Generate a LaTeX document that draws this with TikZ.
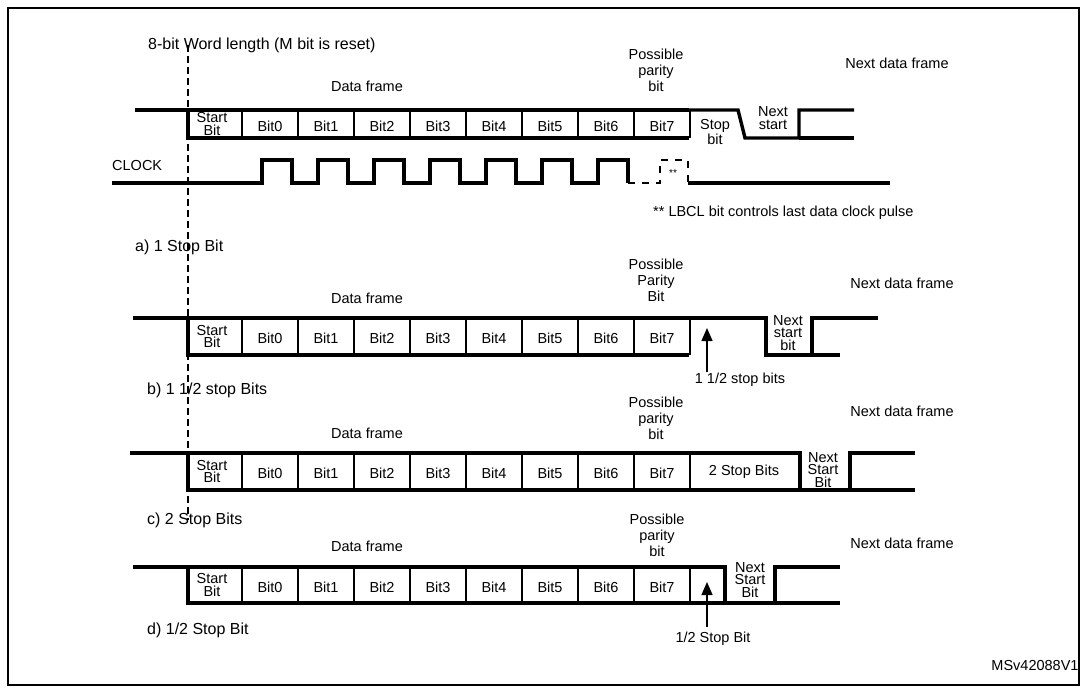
\documentclass[tikz,border=0pt]{standalone}
\usepackage{fontspec}
\setmainfont{Liberation Sans}
\usetikzlibrary{arrows.meta}
\tikzset{
  sig/.style={line width=3.4pt},
  thin sig/.style={line width=2.2pt},
  bitlbl/.style={font=\fontsize{14.5}{12.5}\selectfont,align=center,inner sep=0pt},
  txt/.style={font=\fontsize{14.5}{16}\selectfont,align=center,inner sep=0pt},
  big/.style={font=\fontsize{16}{18}\selectfont,anchor=west,inner sep=0pt},
}
\begin{document}
\begin{tikzpicture}[x=1pt,y=-1pt]
  \useasboundingbox (0,0) rectangle (1085,688);
  \fill[white] (0,0) rectangle (1085,688);

  % frame
  \draw[line width=1.6pt] (8,8) -- (1079,8) -- (1079,685) -- (8,685) -- cycle;
  \draw[line width=2.8pt] (8,8) -- (1079,8);

  % common part of the four frames
  \foreach \f/\yt/\yb/\xs in {a/110/138/135, b/318/355/133, c/453/490/130, d/567/603/133} {
    \draw[sig] (\xs,\yt) -- (188,\yt) -- (188,\yb) -- (689,\yb);
    \draw[sig] (188,\yt) -- (689,\yt);
    \foreach \k in {0,...,8}
      \draw[thin sig] ({242+56*\k},\yt) -- ({242+56*\k},\yb);
    \node[bitlbl] (\f start) at (212,{(\yt+\yb)/2}) {Start\\Bit};
    \foreach \i in {0,...,7}
      \node[bitlbl] (\f bit\i) at ({270+56*\i},{(\yt+\yb)/2+2}) {Bit\i};
  }

  % dashed reference line
  \draw[dashed,line width=1.3pt,dash pattern=on 7pt off 4pt] (188,45) -- (188,520);

  % a) 1 stop bit
  \node[big] (title) at (148,45) {8-bit Word length (M bit is reset)};
  \node[txt] (a frame) at (367,86) {Data frame};
  \node[txt] (a parity) at (656,70) {Possible\\parity\\bit};
  \node[txt] (a next) at (897,63) {Next data frame};
  \draw[sig] (689,110) -- (738,110) -- (745,138) -- (799,138) -- (799,110) -- (854,110);
  \draw[sig] (799,138) -- (854,138);
  \node[bitlbl] (a stop) at (715,132) {Stop\\bit};
  \node[bitlbl] (a nstart) at (773,118) {Next\\start};

  % clock
  \node[txt,anchor=west] (clock) at (112,166) {CLOCK};
  \draw[sig] (112,183) -- (262,183)
    \foreach \k in {0,...,6} { -- ({262+56*\k},160) -- ({292+56*\k},160) -- ({292+56*\k},183)
      \ifnum\k<6 -- ({318+56*\k},183)\fi };
  \draw[thin sig,dash pattern=on 7pt off 7pt] (628,183) -- (660,183) -- (660,160) -- (688,160) -- (688,183);
  \draw[sig] (688,183) -- (890,183);
  \node[font=\fontsize{10}{10}\selectfont] (stars) at (673,173) {**};
  \node[txt,anchor=west] (lbcl) at (653,213) {** LBCL bit controls last data clock pulse};
  \node[big] (a cap) at (135,247) {a) 1 Stop Bit};

  % b) 1 1/2 stop bits
  \node[txt] (b frame) at (367,298) {Data frame};
  \node[txt] (b parity) at (656,280) {Possible\\Parity\\Bit};
  \node[txt] (b next) at (902,283) {Next data frame};
  \draw[sig] (689,318) -- (766,318) -- (766,355) -- (812,355) -- (812,318) -- (878,318);
  \draw[sig] (812,355) -- (840,355);
  \node[bitlbl] (b nstart) at (788,333) {Next\\start\\bit};
  \coordinate (b tail) at (707,372);
  \node[txt,anchor=north] (b stops) at (740,373) {1 1/2 stop bits};
  \draw[line width=1.4pt,-{Triangle[length=13pt,width=11pt]}] (b tail) -- (707,328);
  \node[big] (b cap) at (147,390) {b) 1 1/2 stop Bits};

  % c) 2 stop bits
  \node[txt] (c frame) at (367,433) {Data frame};
  \node[txt] (c parity) at (656,418) {Possible\\parity\\bit};
  \node[txt] (c next) at (902,411) {Next data frame};
  \draw[sig] (689,453) -- (800,453) -- (800,490);
  \draw[sig] (689,490) -- (915,490);
  \draw[sig] (850,490) -- (850,453) -- (915,453);
  \node[bitlbl] (c stops) at (744,472) {2 Stop Bits};
  \node[bitlbl] (c nstart) at (823,470) {Next\\Start\\Bit};
  \node[big] (c cap) at (147,520) {c) 2 Stop Bits};

  % d) 1/2 stop bit
  \node[txt] (d frame) at (367,546) {Data frame};
  \node[txt] (d parity) at (657,535) {Possible\\parity\\bit};
  \node[txt] (d next) at (902,543) {Next data frame};
  \draw[sig] (689,567) -- (725,567) -- (725,603);
  \draw[sig] (689,603) -- (840,603);
  \draw[sig] (775,603) -- (775,567) -- (840,567);
  \node[bitlbl] (d nstart) at (750,580) {Next\\Start\\Bit};
  \coordinate (d tail) at (707,627);
  \node[txt,anchor=north] (d stops) at (713,632) {1/2 Stop Bit};
  \draw[line width=1.4pt,-{Triangle[length=13pt,width=11pt]}] (d tail) -- (707,582);
  \node[big] (d cap) at (147,630) {d) 1/2 Stop Bit};

  \node[txt] (ref) at (1035,666) {MSv42088V1};
\end{tikzpicture}
\end{document}
